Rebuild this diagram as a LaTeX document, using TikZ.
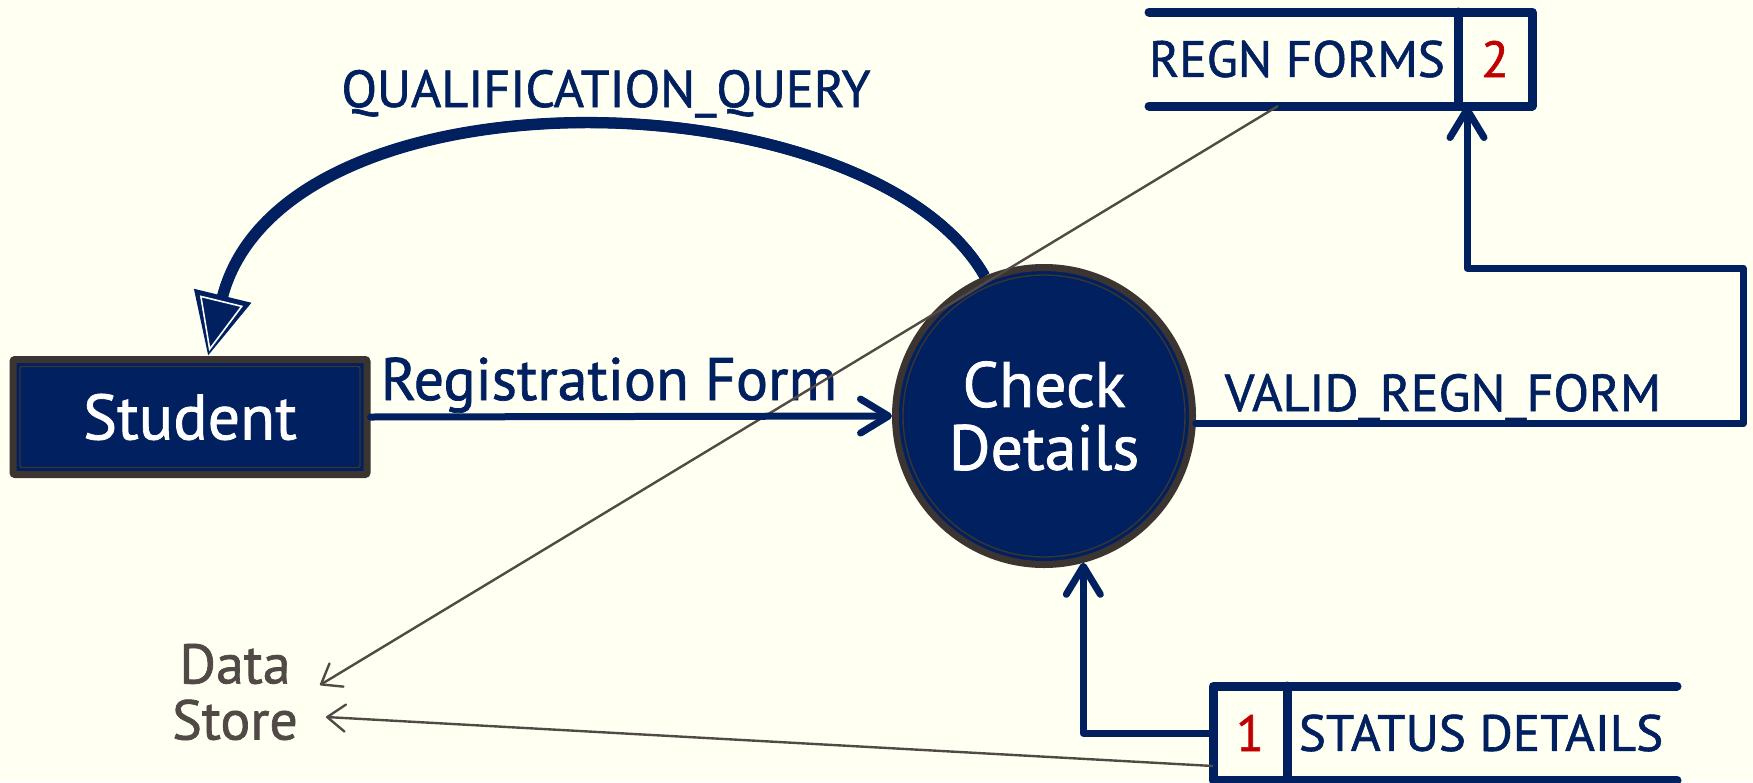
\documentclass[tikz,border=0pt]{standalone}
\usepackage{fontspec}
\setmainfont{PT Sans}[UprightFeatures={FakeBold=1.2}]
\usetikzlibrary{arrows.meta}
\definecolor{navy}{HTML}{002060}
\definecolor{rim}{HTML}{3B3430}
\definecolor{slate}{HTML}{514945}
\definecolor{idred}{HTML}{C00000}
\definecolor{paper}{HTML}{FFFFF2}

\begin{document}
\begin{tikzpicture}[x=1pt, y=-1pt,
    entityStyle/.style={rectangle, rounded corners=2pt, fill=navy, draw=rim, line width=7pt, text=white,
        minimum width=354pt, minimum height=115pt, font=\fontsize{64}{64}\selectfont,
        path picture={\draw[rim, line width=1.4pt] ([shift={(7pt,-7pt)}]path picture bounding box.north west)
            rectangle ([shift={(-7pt,7pt)}]path picture bounding box.south east);}},
    processStyle/.style={circle, fill=navy, draw=rim, line width=7pt, text=white, minimum size=297pt,
        align=center, font=\fontsize{64}{63}\selectfont,
        path picture={\draw[rim, line width=1.4pt] (path picture bounding box.center) circle (141pt);}},
    flowArrow/.style={navy, line width=7pt, line cap=round, line join=round,
        -{Straight Barb[length=28pt, width=34pt, round]}},
    flowLabel/.style={text=navy, anchor=base, font=\fontsize{52}{52}\selectfont},
    storeLine/.style={navy, line width=9pt, line cap=round, line join=round},
    storeText/.style={text=navy, inner sep=0pt, outer sep=0pt, minimum height=94pt, font=\fontsize{51}{51}\selectfont},
    storeId/.style={storeText, text=idred, minimum width=74pt},
    noteArrow/.style={slate, line width=2.4pt, -{Straight Barb[length=18pt, width=27pt, round]}}]

    \useasboundingbox (0,0) rectangle (1753,782);
    \fill[paper] (0,0) rectangle (1753,782);

    \node[entityStyle] (stu) at (190,417) {Student};
    \node[processStyle] (chk) at (1044,416) {Check\\Details};
    \node[storeText, anchor=west] (regn) at (1149,59) {REGN FORMS};
    \node[storeId] (regnid) at (1495,59) {2};
    \node[storeText, minimum width=392pt] (stat) at (1481,733) {STATUS DETAILS};
    \node[storeId] (statid) at (1250,733) {1};
    \node[text=slate, align=center, inner sep=0pt, font=\fontsize{56}{56}\selectfont] (ds) at (235,692) {Data\\Store};

    \draw[storeLine] (regn.north west) -- (regnid.north east) -- (regnid.south east) -- (regn.south west);
    \draw[storeLine] (regnid.north west) -- (regnid.south west);
    \draw[storeLine] (stat.north east) -- (statid.north west) -- (statid.south west) -- (stat.south east);
    \draw[storeLine] (statid.north east) -- (statid.south east);

    \node[flowLabel] (qlbl) at (606,107) {QUALIFICATION\_QUERY};
    \node[flowLabel, font=\fontsize{60}{60}\selectfont] (reglbl) at (609,400) {Registration Form};
    \node[flowLabel] (validlbl) at (1443,411) {VALID\_REGN\_FORM};

    \coordinate (vr) at (1743,268);
    \coordinate (vt) at (1467,268);

    \draw[noteArrow] ([xshift=129pt]regn.south west) -- ([shift={(22pt,7pt)}]ds.east);
    \draw[noteArrow] ([yshift=-33pt]statid.west) -- ([shift={(28pt,-25pt)}]ds.east);

    \draw[flowArrow] (stu.east) -- (chk.west);
    \draw[flowArrow] (chk.-3) -| (vr) -- (vt) -- (vt |- regn.south);
    \draw[flowArrow] (statid.west) -| (chk.-75);

    \draw[navy, line width=11pt, -{Triangle[length=62pt, width=56pt]}]
        (chk.113) .. controls (870,75) and (280,60) .. ([xshift=18pt]stu.north);
    \draw[navy, line width=11pt, shorten >=5pt, -{Triangle[length=52pt, width=44pt, fill=navy, color=white, line width=1.6pt]}]
        (chk.113) .. controls (870,75) and (280,60) .. ([xshift=18pt]stu.north);
\end{tikzpicture}
\end{document}
